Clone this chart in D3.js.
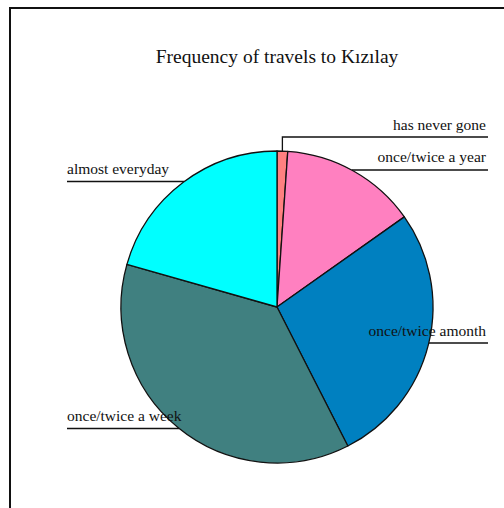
<!DOCTYPE html>
<html>
<head>
<meta charset="utf-8">
<script src="https://cdn.jsdelivr.net/npm/d3@7"></script>
<style>
  html, body { margin: 0; padding: 0; background: #fff; }
  svg { display: block; }
  text { font-family: "Liberation Serif", "Times New Roman", serif; fill: #111; }
</style>
</head>
<body>
<svg id="chart" width="504" height="508"></svg>
<script>
// Share of respondents (%) by how often they travel to Kızılay
const categories = ["has never gone", "once/twice a year", "once/twice amonth", "once/twice a week", "almost everyday"];
const values = [1.1, 14.1, 27.3, 36.9, 20.6];
const colors = ["#FF8080", "#FF80C0", "#0080C0", "#408080", "#00FFFF"];
const title = "Frequency of travels to Kızılay";

const svg = d3.select("#chart");
const cx = 277, cy = 307, r = 156;

// outer frame (runs off the right and bottom edges)
svg.append("rect")
  .attr("x", 10).attr("y", 8)
  .attr("width", 520).attr("height", 530)
  .attr("fill", "none").attr("stroke", "#111").attr("stroke-width", 2);

svg.append("text")
  .attr("x", cx).attr("y", 63)
  .attr("text-anchor", "middle")
  .attr("font-size", 19.5)
  .text(title);

const pie = d3.pie().sort(null).value(d => d)(values);
const arc = d3.arc().innerRadius(0).outerRadius(r);

// label layout: side and baseline of each label
const labelLayout = [
  { side: "right", y: 130, lineY: 137 },
  { side: "right", y: 162, lineY: 170 },
  { side: "right", y: 336, lineY: 343 },
  { side: "left",  y: 421, lineY: 428.5 },
  { side: "left",  y: 174, lineY: 181.5 }
];
const leftX = 67, rightX = 488;

const lines = svg.append("g").attr("stroke", "#111").attr("stroke-width", 1.3).attr("fill", "none");
pie.forEach((p, i) => {
  const L = labelLayout[i];
  const dy = L.lineY - cy;
  if (Math.abs(dy) < r) {
    const edge = Math.sqrt(r * r - dy * dy);
    if (L.side === "right") {
      lines.append("line").attr("x1", cx + edge).attr("x2", rightX)
        .attr("y1", L.lineY).attr("y2", L.lineY);
    } else {
      lines.append("line").attr("x1", leftX).attr("x2", cx - edge)
        .attr("y1", L.lineY).attr("y2", L.lineY);
    }
  }
});

// thin slice at the top gets a vertical leader up to its label line
{
  const p = pie[0];
  const a = (p.startAngle + p.endAngle) / 2;
  const px = cx + r * Math.sin(a), py = cy - r * Math.cos(a);
  const L = labelLayout[0];
  lines.append("path")
    .attr("d", `M${px},${py}V${L.lineY}H${rightX}`);
}

const g = svg.append("g").attr("transform", `translate(${cx},${cy})`);
g.selectAll("path")
  .data(pie)
  .join("path")
  .attr("d", arc)
  .attr("fill", (d, i) => colors[i])
  .attr("stroke", "#111")
  .attr("stroke-width", 1.3)
  .attr("stroke-linejoin", "round");

svg.append("g").selectAll("text")
  .data(pie)
  .join("text")
  .attr("x", (d, i) => labelLayout[i].side === "right" ? rightX - 2 : leftX)
  .attr("y", (d, i) => labelLayout[i].y)
  .attr("text-anchor", (d, i) => labelLayout[i].side === "right" ? "end" : "start")
  .attr("font-size", 15.5)
  .text((d, i) => categories[i]);
</script>
</body>
</html>
